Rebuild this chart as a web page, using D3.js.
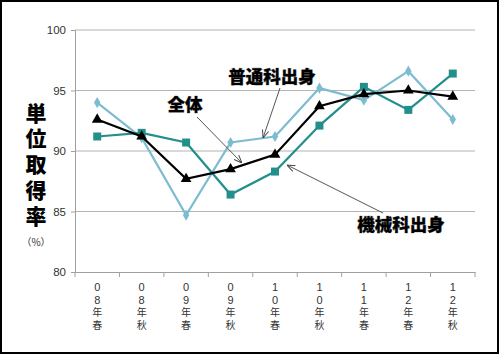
<!DOCTYPE html>
<html><head><meta charset="utf-8">
<script src="https://cdn.jsdelivr.net/npm/d3@7"></script>
<style>body{margin:0;background:#fff}svg{display:block}</style>
</head><body>
<svg id="c" width="500" height="355"></svg>
<script>
const categories = ["08年春","08年秋","09年春","09年秋","10年春","10年秋","11年春","12年春","12年秋"];
const futsuValues = [94.0, 91.1, 84.7, 90.7, 91.2, 95.2, 94.2, 96.6, 92.6];
const kikaiValues = [91.2, 91.5, 90.7, 86.4, 88.3, 92.1, 95.3, 93.4, 96.4];
const zentaiValues = [92.6, 91.2, 87.7, 88.5, 89.7, 93.7, 94.7, 95.0, 94.5];
const yTicks = [80, 85, 90, 95, 100];

const svg = d3.select("#c");
const JP = "'Noto Sans CJK JP','Noto Sans',sans-serif";
const LJP = "'Liberation Sans','Noto Sans CJK JP',sans-serif";
const L = 75, R = 475, T = 30, B = 272;
const x = d3.scaleBand().domain(categories).range([L, R]);
const y = d3.scaleLinear().domain([80, 100]).range([B, T]);
const cx = d => x(d) + x.bandwidth() / 2;

// frame
svg.append("rect").attr("x", 1).attr("y", 1).attr("width", 497).attr("height", 352)
  .attr("fill", "none").attr("stroke", "#000").attr("stroke-width", 2);

// gridlines
svg.append("g").selectAll("line").data(yTicks.filter(t => t > 80)).join("line")
  .attr("x1", L).attr("x2", R).attr("y1", d => y(d)).attr("y2", d => y(d))
  .attr("stroke", "#b4b4b4").attr("stroke-width", 1.2);

// y axis
const ya = svg.append("g").attr("transform", `translate(${L},0)`)
  .call(d3.axisLeft(y).tickValues(yTicks).tickSize(4).tickPadding(5));
ya.select(".domain").attr("stroke", "#a0a0a0");
ya.selectAll(".tick line").attr("stroke", "#a0a0a0");
ya.selectAll("text").attr("font-family", "'Liberation Sans',Arial,sans-serif").attr("font-size", 11.5).attr("fill", "#333");

// x axis
const xa = svg.append("g").attr("transform", `translate(0,${B})`)
  .call(d3.axisBottom(x).tickSize(0).tickFormat(""));
xa.select(".domain").attr("stroke", "#a0a0a0");
const bounds = d3.range(categories.length + 1).map(i => L + i * x.step());
svg.append("g").selectAll("line").data(bounds).join("line")
  .attr("x1", d => d).attr("x2", d => d).attr("y1", B).attr("y2", B + 5)
  .attr("stroke", "#a0a0a0");

// x labels stacked vertically, one character per line
const xl = svg.append("g");
categories.forEach(c => {
  Array.from(c).forEach((ch, i) => {
    const digit = /[0-9]/.test(ch);
    xl.append("text").attr("x", cx(c)).attr("y", 291 + i * 12.6)
      .attr("text-anchor", "middle").attr("font-size", digit ? 11 : 10)
      .attr("font-family", LJP)
      .attr("fill", "#333").text(ch);
  });
});

// y title
Array.from("単位取得率").forEach((ch, i) => {
  svg.append("text").attr("x", 36).attr("y", 113 + i * 25.8).attr("dy", "0.36em")
    .attr("text-anchor", "middle").attr("font-size", 21).attr("font-weight", 900)
    .attr("font-family", LJP).attr("fill", "#000").text(ch);
});
svg.append("text").attr("x", 36).attr("y", 242).attr("dy", "0.35em")
  .attr("text-anchor", "middle").attr("font-size", 10).attr("font-family", JP)
  .attr("fill", "#333").text("（%）");

// series
const line = d3.line().x((d, i) => cx(categories[i])).y(d => y(d));
const series = [
  {name: "普通科出身", values: futsuValues, color: "#7cbcd1", marker: "diamond", size: 36},
  {name: "機械科出身", values: kikaiValues, color: "#238f8d", marker: "square", size: 64},
  {name: "全体", values: zentaiValues, color: "#000000", marker: "triangle", size: 50}
];
const sym = {diamond: d3.symbolDiamond, square: d3.symbolSquare, triangle: d3.symbolTriangle};
series.forEach(s => {
  svg.append("path").datum(s.values).attr("d", line)
    .attr("fill", "none").attr("stroke", s.color).attr("stroke-width", 2.2);
  svg.append("g").selectAll("path").data(s.values).join("path")
    .attr("transform", (d, i) => `translate(${cx(categories[i])},${y(d)})`)
    .attr("d", d3.symbol().type(sym[s.marker]).size(s.size))
    .attr("fill", s.color);
});

// annotations
const defs = svg.append("defs");
defs.append("marker").attr("id", "ah").attr("viewBox", "0 0 10 10").attr("refX", 10).attr("refY", 5)
  .attr("markerWidth", 8).attr("markerHeight", 8).attr("orient", "auto-start-reverse")
  .append("path").attr("d", "M0,1 L10,5 L0,9").attr("fill", "none").attr("stroke", "#444").attr("stroke-width", 1.2);

const notes = [
  {text: "全体", tx: 185, ty: 105, x1: 197, y1: 117, x2: 242, y2: 163},
  {text: "普通科出身", tx: 272, ty: 77, x1: 280, y1: 88, x2: 263, y2: 138},
  {text: "機械科出身", tx: 401, ty: 225, x1: 383, y1: 213, x2: 287, y2: 165}
];
notes.forEach(n => {
  svg.append("line").attr("x1", n.x1).attr("y1", n.y1).attr("x2", n.x2).attr("y2", n.y2)
    .attr("stroke", "#555").attr("stroke-width", 1).attr("marker-end", "url(#ah)");
  svg.append("text").attr("x", n.tx).attr("y", n.ty).attr("dy", "0.36em")
    .attr("text-anchor", "middle").attr("font-size", 17.5).attr("font-weight", 900)
    .attr("font-family", JP).attr("fill", "#000")
    .attr("stroke", "#888").attr("stroke-width", 0.6).attr("paint-order", "stroke")
    .text(n.text);
});
</script>
</body></html>
